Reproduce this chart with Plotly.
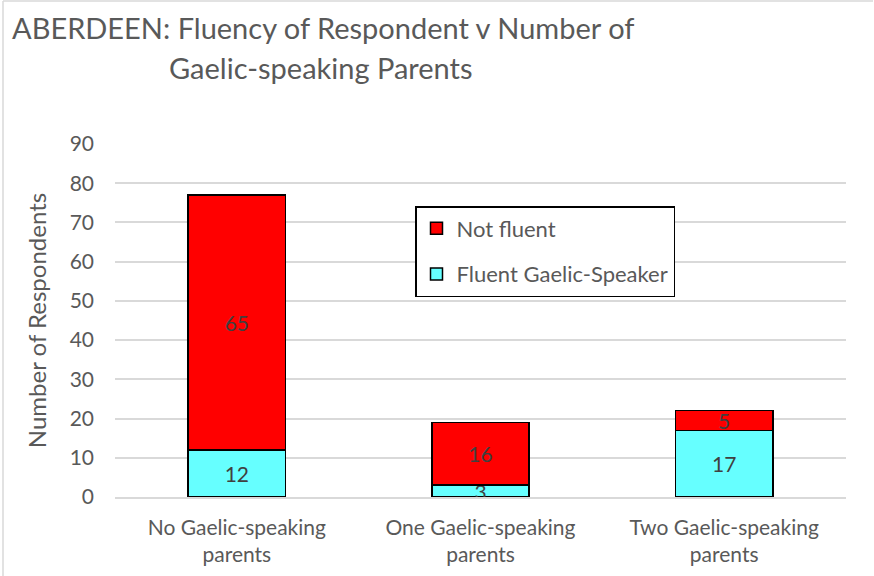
import plotly.graph_objects as go

categories = ["No Gaelic-speaking<br>parents", "One Gaelic-speaking<br>parents", "Two Gaelic-speaking<br>parents"]
fluent = [12, 3, 17]
not_fluent = [65, 16, 5]
y_ticks = [0, 10, 20, 30, 40, 50, 60, 70, 80, 90]

W, H = 874, 576
L, R, T, B = 115, 28, 144, 79
pw, ph = W - L - R, H - T - B

FONT = "Lato, Open Sans, sans-serif"

fig = go.Figure()
fig.add_trace(go.Bar(
    x=categories, y=fluent, name="Fluent Gaelic-Speaker",
    marker=dict(color="#66FFFF", line=dict(color="black", width=1.5)),
    text=fluent, texttemplate="%{text}", textposition="inside",
    insidetextanchor="middle", textangle=0, constraintext="none",
    textfont=dict(size=21, color="#404040", family=FONT),
    legendrank=2, legendgroup="fluent",
))
fig.add_trace(go.Bar(
    x=categories, y=not_fluent, name="Not fluent",
    marker=dict(color="#FF0000", line=dict(color="black", width=1.5)),
    text=not_fluent, texttemplate="%{text}", textposition="inside",
    insidetextanchor="middle", textangle=0, constraintext="none",
    textfont=dict(size=21, color="#404040", family=FONT),
    legendrank=1, legendgroup="notfluent",
))

def px_x(p):
    return (p - L) / pw

def px_y(p):
    return (H - B - p) / ph

fig.update_layout(
    width=W, height=H,
    margin=dict(l=L, r=R, t=T, b=B, autoexpand=False),
    barmode="stack", bargap=0.6,
    plot_bgcolor="white", paper_bgcolor="white",
    font=dict(family=FONT, color="#595959", size=21),
    showlegend=True,
    legend=dict(
        x=px_x(415), y=px_y(206), xanchor="left", yanchor="top",
        traceorder="grouped", tracegroupgap=14,
        bordercolor="black", borderwidth=1.5, bgcolor="white",
        font=dict(size=22, color="#595959", family=FONT),
        itemwidth=30,
    ),
    xaxis=dict(
        showline=True, linecolor="#D9D9D9", linewidth=1.5,
        ticks="", tickfont=dict(size=21, color="#595959"),
        showgrid=False, ticklabelstandoff=11,
    ),
    yaxis=dict(
        range=[0, 90], tickvals=y_ticks, showline=False,
        gridcolor="#D9D9D9", gridwidth=1.5, zeroline=False,
        tickfont=dict(size=21, color="#595959"), ticks="", ticklen=0,
        ticklabelstandoff=20,
        title=dict(text="Number of Respondents", font=dict(size=24, color="#595959"), standoff=16),
    ),
    annotations=[
        dict(text="ABERDEEN: Fluency of Respondent v Number of", x=px_x(10), y=px_y(8),
             xref="paper", yref="paper", xanchor="left", yanchor="top", showarrow=False,
             font=dict(size=29, color="#595959", family=FONT)),
        dict(text="Gaelic-speaking Parents", x=px_x(167), y=px_y(48),
             xref="paper", yref="paper", xanchor="left", yanchor="top", showarrow=False,
             font=dict(size=29, color="#595959", family=FONT)),
    ],
    shapes=[
        dict(type="line", xref="paper", yref="paper", x0=px_x(3), x1=px_x(3), y0=px_y(1), y1=px_y(576),
             line=dict(color="#D9D9D9", width=1.5)),
        dict(type="line", xref="paper", yref="paper", x0=px_x(3), x1=px_x(873), y0=px_y(1), y1=px_y(1),
             line=dict(color="#D9D9D9", width=1.5)),
    ],
)

fig.write_html("out.html", config={"displayModeBar": False},
               post_script="document.body.style.margin='0';")
